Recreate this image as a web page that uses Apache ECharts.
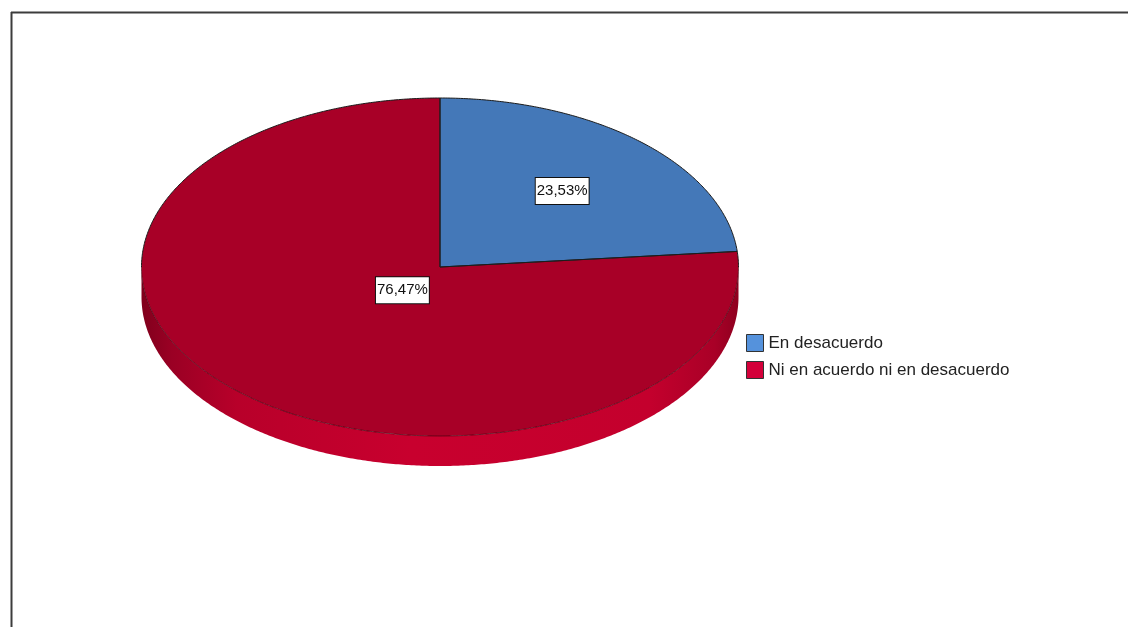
<!DOCTYPE html>
<html>
<head>
<meta charset="utf-8">
<title>Pie</title>
<script src="https://cdn.jsdelivr.net/npm/echarts@6/dist/echarts.min.js"></script>
<style>
  html, body { margin: 0; padding: 0; background: #ffffff; }
  #chart { width: 1128px; height: 627px; }
</style>
</head>
<body>
<div id="chart"></div>
<script>
// Categories and their shares (percent)
const categories = ['En desacuerdo', 'Ni en acuerdo ni en desacuerdo'];
const percentValues = [23.53, 76.47];
const sliceColors = ['#4478b8', '#a80027'];
const legendColors = ['#5592dc', '#d4003a'];

// Layout of the tilted pie (pixels)
const PIE = { cx: 440, cy: 267, rx: 298.5, ry: 169, depth: 30 };

const total = percentValues.reduce((a, b) => a + b, 0);
const fmt = v => v.toFixed(2).replace('.', ',') + '%';

// cumulative [start, end] fractions for each slice
let acc = 0;
const ranges = percentValues.map(v => {
  const s = acc / total;
  acc += v;
  return [s, acc / total, v];
});

// angle t measured clockwise from 12 o'clock
function pt(t, dy) {
  return [PIE.cx + PIE.rx * Math.sin(t), PIE.cy - PIE.ry * Math.cos(t) + (dy || 0)];
}
function arc(t0, t1, dy) {
  const pts = [];
  const n = Math.max(2, Math.ceil(Math.abs(t1 - t0) / (Math.PI / 360)));
  for (let i = 0; i <= n; i++) pts.push(pt(t0 + (t1 - t0) * i / n, dy));
  return pts;
}

const sideGradient = new echarts.graphic.LinearGradient(
  PIE.cx - PIE.rx, 0, PIE.cx + PIE.rx, 0,
  [
    { offset: 0, color: '#80001c' },
    { offset: 0.05, color: '#9a0024' },
    { offset: 0.16, color: '#b8002a' },
    { offset: 0.45, color: '#c8002e' },
    { offset: 0.85, color: '#c4002d' },
    { offset: 0.96, color: '#a90027' },
    { offset: 1, color: '#8e001f' }
  ],
  true
);

const HALF = Math.PI / 2;

function renderSlice(params, api) {
  const t0 = api.value(0) * 2 * Math.PI;
  const t1 = api.value(1) * 2 * Math.PI;
  const value = api.value(2);
  const color = sliceColors[params.seriesIndex];
  const children = [];

  // visible side wall: front half of the rim (90deg .. 270deg)
  const s0 = Math.max(t0, HALF);
  const s1 = Math.min(t1, 3 * HALF);
  if (s1 > s0) {
    children.push({
      type: 'polygon',
      z2: 1,
      shape: { points: arc(s0, s1, 0).concat(arc(s1, s0, PIE.depth)) },
      style: { fill: params.seriesIndex === 1 ? sideGradient : color, stroke: null }
    });
  }

  // top face
  children.push({
    type: 'polygon',
    z2: 10,
    shape: { points: [[PIE.cx, PIE.cy]].concat(arc(t0, t1, 0)) },
    style: { fill: color, stroke: null }
  });

  // radial edges
  children.push({
    type: 'polyline',
    z2: 12,
    shape: { points: [pt(t0), [PIE.cx, PIE.cy], pt(t1)] },
    style: { stroke: '#1c1c1c', lineWidth: 1, fill: null }
  });

  // rim outline: dark along the back, faint along the front
  const cuts = [t0, HALF, 3 * HALF, t1].filter(a => a >= t0 && a <= t1).sort((a, b) => a - b);
  for (let i = 0; i < cuts.length - 1; i++) {
    const a = cuts[i], b = cuts[i + 1];
    if (b - a < 1e-6) continue;
    const m = (a + b) / 2;
    const front = m > HALF && m < 3 * HALF;
    children.push({
      type: 'polyline',
      z2: 12,
      shape: { points: arc(a, b, 0) },
      style: { stroke: front ? 'rgba(40,0,8,0.55)' : '#1c1c1c', lineWidth: 1, fill: null }
    });
  }

  // value label at the sector centroid
  const half = (t1 - t0) / 2;
  const r = (2 / 3) * Math.sin(half) / half;
  const mid = (t0 + t1) / 2;
  children.push({
    type: 'text',
    z2: 20,
    x: PIE.cx + r * PIE.rx * Math.sin(mid),
    y: PIE.cy - r * PIE.ry * Math.cos(mid),
    style: {
      text: fmt(value),
      fontFamily: 'Liberation Sans, Arial, sans-serif',
      fontSize: 15,
      fill: '#111',
      align: 'center',
      verticalAlign: 'middle',
      backgroundColor: '#ffffff',
      borderColor: '#111',
      borderWidth: 1,
      padding: [6, 1, 5, 1]
    }
  });

  return { type: 'group', children: children };
}

const chart = echarts.init(document.getElementById('chart'), null, { renderer: 'canvas' });

chart.setOption({
  animation: false,
  backgroundColor: '#ffffff',
  legend: {
    orient: 'vertical',
    left: 741,
    top: 329,
    icon: 'rect',
    itemWidth: 17,
    itemHeight: 17,
    itemGap: 9,
    textStyle: { fontFamily: 'Liberation Sans, Arial, sans-serif', fontSize: 17, color: '#222' },
    data: categories.map((name, i) => ({
      name: name,
      itemStyle: { color: legendColors[i], borderColor: '#333', borderWidth: 1 }
    }))
  },
  graphic: [
    { type: 'line', shape: { x1: 11, y1: 12.5, x2: 1128, y2: 12.5 }, style: { stroke: '#3c3c3c', lineWidth: 2 } },
    { type: 'line', shape: { x1: 11.5, y1: 12, x2: 11.5, y2: 627 }, style: { stroke: '#3c3c3c', lineWidth: 2 } }
  ],
  series: categories.map((name, i) => ({
    type: 'custom',
    name: name,
    coordinateSystem: 'none',
    z: 2,
    itemStyle: { color: legendColors[i] },
    renderItem: renderSlice,
    data: [ranges[i]]
  }))
});
</script>
</body>
</html>
